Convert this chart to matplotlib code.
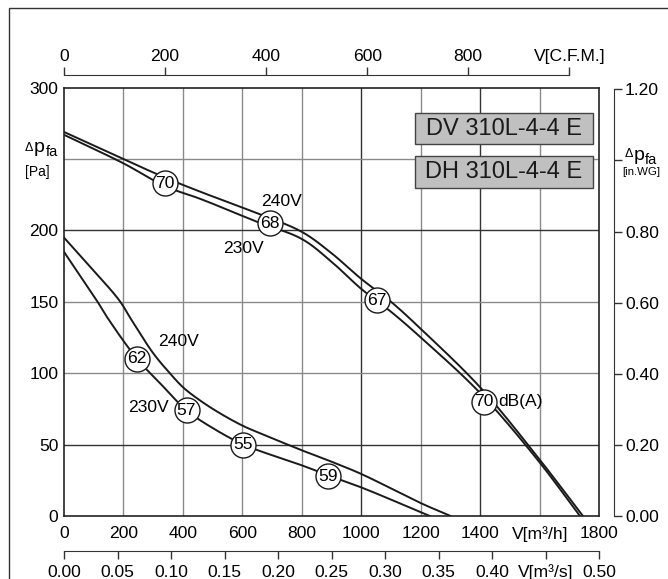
import numpy as np
import matplotlib
matplotlib.use('Agg')
from matplotlib import pyplot as plt
from matplotlib.patches import Rectangle

plt.rcParams['font.family'] = ['Liberation Sans', 'DejaVu Sans']
plt.rcParams['font.size'] = 12.6

# fan curves, V [m3/h] vs dp_fa [Pa]
hi_240_q = [0, 200, 340, 460, 650, 800, 900, 1000, 1100, 1200, 1400, 1590, 1745]
hi_240_p = [269, 250, 237, 227, 212, 199, 184, 166, 150, 131, 90, 42, 0]
hi_230_q = [0, 200, 340, 460, 650, 800, 900, 1000, 1100, 1200, 1400, 1590, 1735]
hi_230_p = [267, 247, 231, 222, 206, 194, 178, 159, 143, 125, 86, 40, 0]

lo_240_q = [0, 97, 186, 228, 300, 356, 401, 457, 524, 603, 659, 800, 894, 1000, 1200, 1300]
lo_240_p = [195, 172.5, 151, 137, 114, 100, 90, 81, 72, 63, 58, 46, 38.5, 29.4, 9, 0]
lo_230_q = [0, 110, 149, 246, 323, 412, 513, 603, 659, 793, 888, 1000, 1230]
lo_230_p = [185, 151, 138, 110, 93, 74, 60, 50, 45.5, 36, 28.5, 20, 0]

# sound level marks dB(A)
circle_q = [339, 692, 1053, 1413, 246, 412, 603, 888]
circle_p = [233, 205, 151, 80, 110, 74, 50, 28]
circle_db = ['70', '68', '67', '70', '62', '57', '55', '59']

volt_q = [732, 603, 384, 284]
volt_p = [220, 187.5, 122.5, 76]
volt_txt = ['240V', '230V', '240V', '230V']

models = ['DV 310L-4-4 E', 'DH 310L-4-4 E']

x_ticks = [0, 200, 400, 600, 800, 1000, 1200, 1400, 1600, 1800]
x_labels = ['0', '200', '400', '600', '800', '1000', '1200', '1400', 'V[m³/h]', '1800']
y_ticks = [0, 50, 100, 150, 200, 250, 300]
y_labels = ['0', '50', '100', '150', '200', '', '300']
cfm_ticks = [0, 200, 400, 600, 800, 1000]
cfm_labels = ['0', '200', '400', '600', '800', 'V[C.F.M.]']
m3s_ticks = [0.0, 0.05, 0.10, 0.15, 0.20, 0.25, 0.30, 0.35, 0.40, 0.45, 0.50]
m3s_labels = ['0.00', '0.05', '0.10', '0.15', '0.20', '0.25', '0.30', '0.35', '0.40', 'V[m³/s]', '0.50']
wg_ticks = [0.0, 0.2, 0.4, 0.6, 0.8, 1.0, 1.2]
wg_labels = ['0.00', '0.20', '0.40', '0.60', '0.80', '', '1.20']
dark_x = [1000, 1400]
dark_y = [50, 200]


def smooth(xs, ys, n=24):
    # centripetal catmull-rom through the read points (drawing only)
    sx, sy = 0.2974, 1.428
    pts = np.column_stack([np.asarray(xs, float) * sx, np.asarray(ys, float) * sy])
    P = np.vstack([2 * pts[0] - pts[1], pts, 2 * pts[-1] - pts[-2]])
    out = []
    for i in range(1, len(P) - 2):
        p0, p1, p2, p3 = P[i - 1], P[i], P[i + 1], P[i + 2]
        t0 = 0.0
        t1 = t0 + np.linalg.norm(p1 - p0) ** 0.5
        t2 = t1 + np.linalg.norm(p2 - p1) ** 0.5
        t3 = t2 + np.linalg.norm(p3 - p2) ** 0.5
        t = np.linspace(t1, t2, n)[:, None]
        a1 = (t1 - t) / (t1 - t0) * p0 + (t - t0) / (t1 - t0) * p1
        a2 = (t2 - t) / (t2 - t1) * p1 + (t - t1) / (t2 - t1) * p2
        a3 = (t3 - t) / (t3 - t2) * p2 + (t - t2) / (t3 - t2) * p3
        b1 = (t2 - t) / (t2 - t0) * a1 + (t - t0) / (t2 - t0) * a2
        b2 = (t3 - t) / (t3 - t1) * a2 + (t - t1) / (t3 - t1) * a3
        c = (t2 - t) / (t2 - t1) * b1 + (t - t1) / (t2 - t1) * b2
        out.append(c if i == 1 else c[1:])
    c = np.vstack(out)
    return c[:, 0] / sx, c[:, 1] / sy


W, H = 668, 579
fig = plt.figure(figsize=(W / 100, H / 100), dpi=100)
fx = lambda x: x / W
fy = lambda y: 1 - y / H

# outer frame
fig.add_artist(Rectangle((fx(8.5), -0.1), 1.2, fy(8) + 0.1, transform=fig.transFigure,
                         fill=False, ec='#333333', lw=1.0))

ax = fig.add_axes([fx(64), fy(516), (599.3 - 64) / W, (516 - 87.7) / H])
ax.set_xlim(0, 1800)
ax.set_ylim(0, 300)

for x in x_ticks[1:-1]:
    ax.axvline(x, color='#333333' if x in dark_x else '#8a8a8a', lw=1.0, zorder=1)
for y in y_ticks[1:-1]:
    ax.axhline(y, color='#333333' if y in dark_y else '#8a8a8a', lw=1.0, zorder=1)

ax.set_xticks(x_ticks, x_labels)
ax.set_yticks(y_ticks, y_labels)
ax.tick_params(length=0)
ax.tick_params(axis='x', pad=7)
ax.tick_params(axis='y', pad=4)
for s in ax.spines.values():
    s.set_linewidth(1.2)
    s.set_color('#222222')

lc = '#1a1a1a'
for q, p in [(hi_240_q, hi_240_p), (hi_230_q, hi_230_p),
             (lo_240_q, lo_240_p), (lo_230_q, lo_230_p)]:
    sq, sp = smooth(q, p)
    ax.plot(sq, sp, color=lc, lw=1.4, zorder=2)

ax.plot(circle_q, circle_p, 'o', ms=18, mfc='white', mec=lc, mew=1.0, zorder=3)
for q, p, t in zip(circle_q, circle_p, circle_db):
    ax.text(q, p, t, ha='center', va='center', zorder=4)
ax.text(1461, 80, 'dB(A)', ha='left', va='center', zorder=4)

for q, p, t in zip(volt_q, volt_p, volt_txt):
    ax.text(q, p, t, ha='center', va='center', zorder=4)

# model boxes
box_y = [(260.3, 282), (230, 252)]
for name, (y0, y1) in zip(models, box_y):
    ax.add_patch(Rectangle((1181, y0), 1778 - 1181, y1 - y0, fc='#c0c0c0', ec='#444444',
                           lw=1.0, zorder=5))
    ax.text((1181 + 1778) / 2, (y0 + y1) / 2, name, fontsize=17, ha='center',
            va='center', zorder=6, color='#1a1a1a')

# top axis C.F.M.
m3h_per_cfm = 1.699
top = ax.secondary_xaxis(1 + 12.7 / 428.3, functions=(lambda v: v / m3h_per_cfm,
                                                      lambda v: v * m3h_per_cfm))
top.set_xticks(cfm_ticks, cfm_labels)
top.spines['top'].set_bounds(0, 1000)
top.tick_params(length=6, width=1.0, pad=2, color='#333333')
top.spines['top'].set_color('#333333')

# bottom axis m3/s
bot = ax.secondary_xaxis(-(550.7 - 516) / 428.3, functions=(lambda v: v / 3600,
                                                            lambda v: v * 3600))
bot.set_xticks(m3s_ticks, m3s_labels)
bot.spines['bottom'].set_bounds(0, 0.5)
bot.tick_params(length=6, width=1.0, pad=4, color='#333333')
bot.spines['bottom'].set_color('#333333')

# right axis in.WG
pa_per_wg = 249.09
rgt = ax.secondary_yaxis(1 + 14.5 / 535.3, functions=(lambda v: v / pa_per_wg,
                                                      lambda v: v * pa_per_wg))
rgt.set_yticks(wg_ticks, wg_labels)
rgt.spines['right'].set_bounds(0, 1.2)
rgt.tick_params(length=6, width=1.0, pad=2, color='#333333')
rgt.spines['right'].set_color('#333333')

# axis titles
fig.text(fx(25), fy(151), 'Δ', fontsize=9, va='baseline', ha='left')
fig.text(fx(34), fy(152), 'p', fontsize=14, va='baseline', ha='left')
fig.text(fx(46), fy(156), 'fa', fontsize=10.5, va='baseline', ha='left')
fig.text(fx(25), fy(172), '[Pa]', fontsize=10, va='center', ha='left')

fig.text(fx(625), fy(157), 'Δ', fontsize=9, va='baseline', ha='left')
fig.text(fx(634), fy(160), 'p', fontsize=14, va='baseline', ha='left')
fig.text(fx(645), fy(164), 'fa', fontsize=10.5, va='baseline', ha='left')
fig.text(fx(622), fy(172), '[in.WG]', fontsize=8.2, va='center', ha='left')

fig.savefig('out.png', dpi=100)
